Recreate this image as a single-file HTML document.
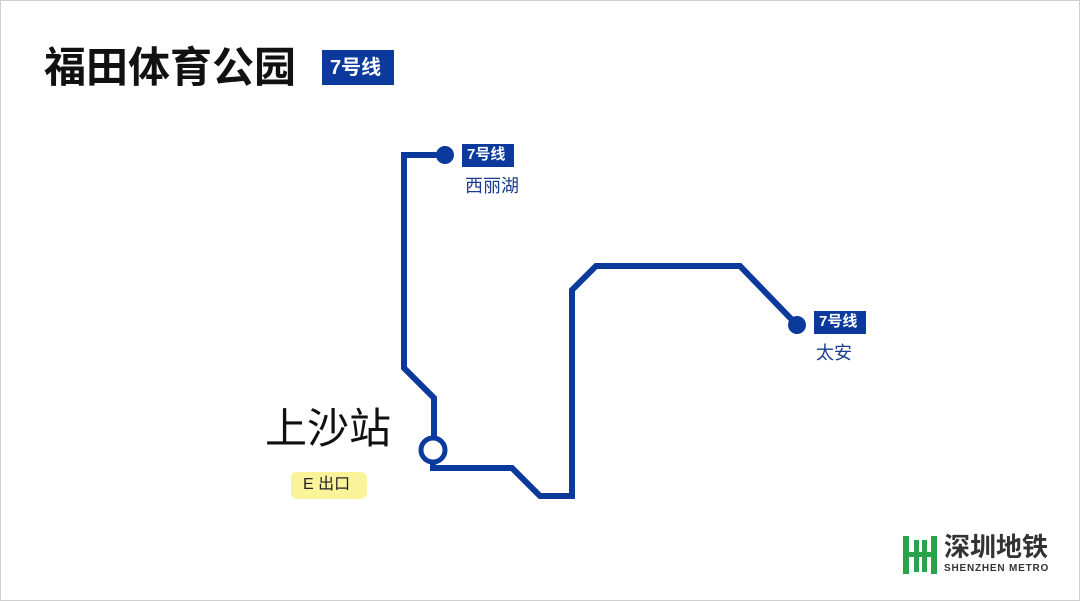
<!DOCTYPE html>
<html><head><meta charset="utf-8"><style>
html,body{margin:0;padding:0;background:#fff}
.wrap{position:relative;width:1080px;height:601px;overflow:hidden;font-family:"Liberation Sans","Noto Sans CJK SC",sans-serif}
.t{position:absolute;white-space:nowrap;line-height:1}
</style></head><body><div class="wrap">
<svg width="1080" height="601" style="position:absolute;left:0;top:0">
<rect x="0.5" y="0.5" width="1079" height="600" fill="none" stroke="#cfcfcf"/>
<rect x="322" y="50" width="72" height="35" fill="#0b3a9c"/>
<rect x="462" y="144" width="52" height="23" fill="#0b3a9c"/>
<rect x="814" y="311" width="52" height="23" fill="#0b3a9c"/>
<rect x="291" y="472" width="76" height="27" rx="6" fill="#fbf39a"/>
<polyline points="445,155 404,155 404,368 434,398 434,440" fill="none" stroke="#0b3a9c" stroke-width="6"/>
<polyline points="433,462 433,468 512,468 540,496 572,496 572,290 596,266 740,266 797,325" fill="none" stroke="#0b3a9c" stroke-width="6"/>
<circle cx="445" cy="155" r="9" fill="#0b3a9c"/>
<circle cx="797" cy="325" r="9" fill="#0b3a9c"/>
<circle cx="433" cy="450" r="12" fill="#fff" stroke="#0b3a9c" stroke-width="5"/>
<g fill="#2aa34a">
<rect x="903" y="536" width="6" height="38"/><rect x="931" y="536" width="6" height="38"/>
<rect x="914" y="540" width="5" height="32"/><rect x="922" y="540" width="5" height="32"/>
<rect x="903" y="552" width="34" height="5"/>
</g>
</svg>
<div class="t" style="left:44px;top:47px;font-size:42px;font-weight:bold;color:#111">福田体育公园</div>
<div class="t" style="left:330px;top:58px;font-size:20px;font-weight:bold;color:#fff">7号线</div>
<div class="t" style="left:467px;top:147px;font-size:15px;font-weight:bold;color:#fff">7号线</div>
<div class="t" style="left:465px;top:177px;font-size:18px;color:#1a3c8f">西丽湖</div>
<div class="t" style="left:819px;top:314px;font-size:15px;font-weight:bold;color:#fff">7号线</div>
<div class="t" style="left:816px;top:344px;font-size:18px;color:#1a3c8f">太安</div>
<div class="t" style="left:265px;top:408px;font-size:42px;color:#111">上沙站</div>
<div class="t" style="left:303px;top:477px;font-size:16px;color:#222">E 出口</div>
<div class="t" style="left:944px;top:534px;font-size:26px;font-weight:bold;color:#333">深圳地铁</div>
<div class="t" style="left:944px;top:564px;font-size:10px;font-weight:bold;color:#333;letter-spacing:0.8px">SHENZHEN METRO</div>
</div></body></html>
